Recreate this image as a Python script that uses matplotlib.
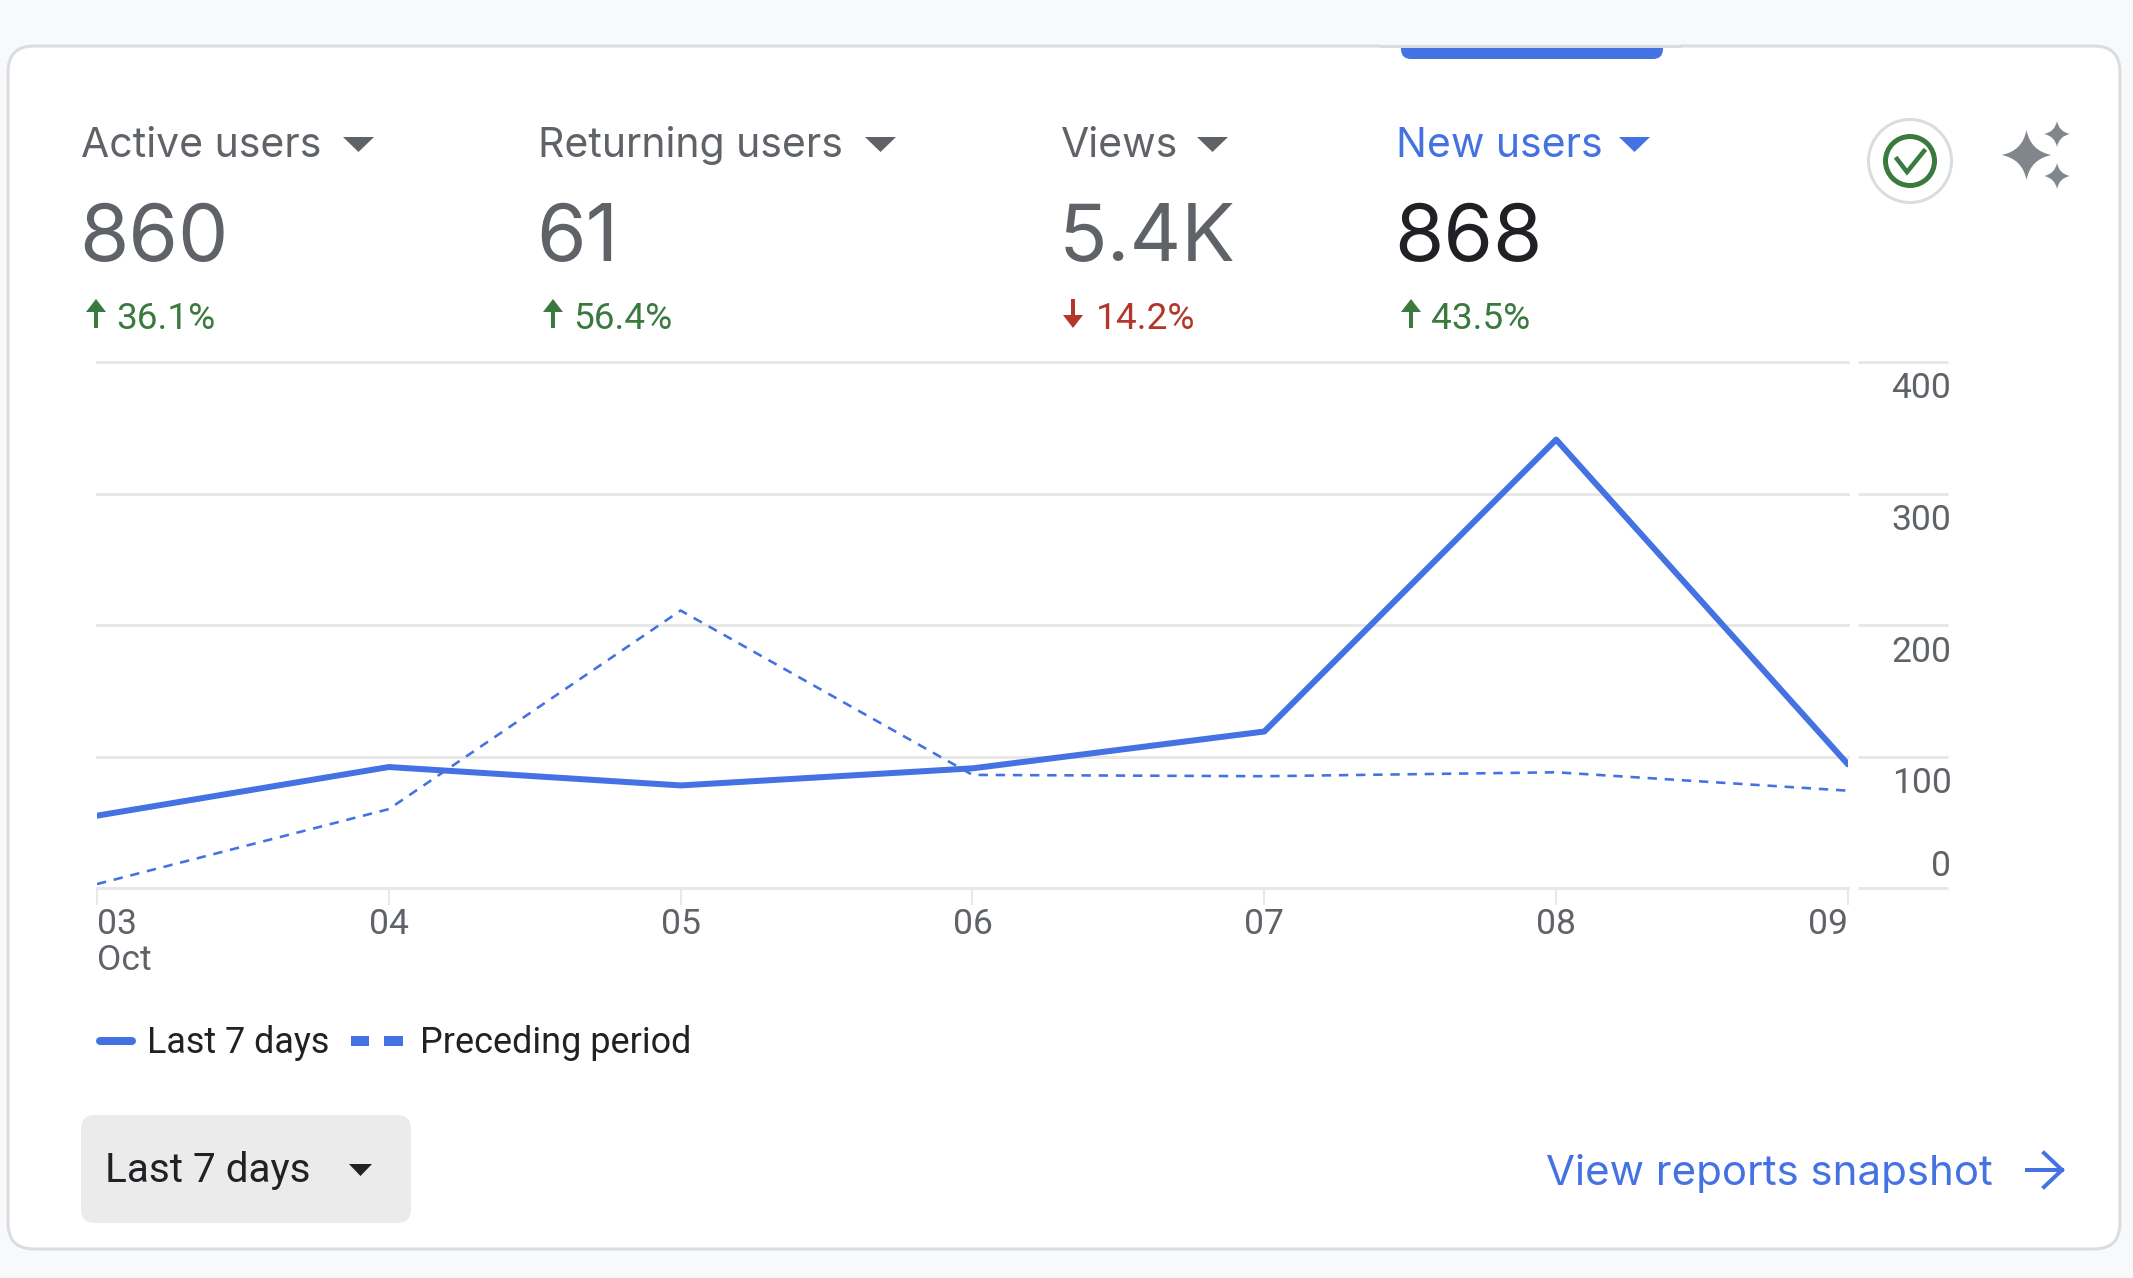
import matplotlib
matplotlib.use('Agg')
import numpy as np
from matplotlib import pyplot as plt
from matplotlib.patches import FancyBboxPatch, Polygon, Circle, PathPatch
from matplotlib.path import Path

# chart data
days = ['03\nOct', '04', '05', '06', '07', '08', '09']
last_7 = [55, 92, 78, 91, 119, 341, 94]
preceding = [3, 60, 211, 86, 85, 88, 74]
y_ticks = [0, 100, 200, 300, 400]

# header metrics
metric_names = ['Active users', 'Returning users', 'Views', 'New users']
metric_values = ['860', '61', '5.4K', '868']
metric_changes = ['36.1%', '56.4%', '14.2%', '43.5%']
metric_up = [True, True, False, True]

BLUE = '#4472e2'
GREY = '#5f6368'
DARK = '#202124'
GREEN = '#3a7a3f'
RED = '#b3362b'
LINE = '#e8e8e8'
W, H = 2133, 1278
DPI = 100
HEAD_FONT = ['Inter', 'DejaVu Sans']


def px(p):
    return p * 72 / DPI


def star(ax, cx, cy, r, color):
    k = r * 0.16
    verts = [(cx, cy - r), (cx + k, cy - k), (cx + r, cy), (cx + k, cy + k), (cx, cy + r),
             (cx - k, cy + k), (cx - r, cy), (cx - k, cy - k), (cx, cy - r)]
    codes = [Path.MOVETO] + [Path.CURVE3] * 8
    ax.add_patch(PathPatch(Path(verts, codes), fc=color, ec='none'))


plt.rcParams['font.family'] = ['Roboto', 'DejaVu Sans']
fig = plt.figure(figsize=(W / DPI, H / DPI), dpi=DPI, facecolor='#f8f9fa')

# overlay in pixel coords for the card around the chart
ui = fig.add_axes([0, 0, 1, 1])
ui.set_xlim(0, W)
ui.set_ylim(H, 0)
ui.axis('off')

ui.add_patch(FancyBboxPatch((8, 46), 2112, 1203, boxstyle='round,pad=0,rounding_size=26',
                            fc='white', ec='#dadce0', lw=px(3)))
ui.add_patch(FancyBboxPatch((1401, 30), 262, 29, boxstyle='round,pad=0,rounding_size=10',
                            fc=BLUE, ec='none'))
ui.add_patch(FancyBboxPatch((1380, 20), 300, 26, boxstyle='square,pad=0', fc='#f8f9fa', ec='none'))
ui.plot([1380, 1680], [46, 46], color='#dadce0', lw=px(3))

metric_x = [81, 538, 1061, 1396]
caret_x = [343, 865, 1197, 1619]
for i in range(4):
    x = metric_x[i]
    col = BLUE if i == 3 else GREY
    ui.text(x, 157, metric_names[i], color=col, fontsize=px(41), family=HEAD_FONT, va='baseline')
    ui.add_patch(Polygon([(caret_x[i], 137), (caret_x[i] + 31, 137), (caret_x[i] + 15.5, 152)], fc=col, ec='none'))
    ui.text(x - 2, 261, metric_values[i], color=DARK if i == 3 else GREY, fontsize=px(80),
            family=HEAD_FONT, va='baseline')
    chg = GREEN if metric_up[i] else RED
    ui.text(x + 35, 329, metric_changes[i], color=chg, fontsize=px(37), va='baseline')
    ax_x = x + 15
    if metric_up[i]:
        ui.plot([ax_x, ax_x], [310, 328], color=chg, lw=px(4), solid_capstyle='butt')
        ui.add_patch(Polygon([(ax_x - 10, 312), (ax_x + 10, 312), (ax_x, 299)], fc=chg, ec='none'))
    else:
        ui.plot([ax_x - 3, ax_x - 3], [299, 317], color=chg, lw=px(4), solid_capstyle='butt')
        ui.add_patch(Polygon([(ax_x - 13, 315), (ax_x + 7, 315), (ax_x - 3, 328)], fc=chg, ec='none'))

# check badge and sparkles
ui.add_patch(Circle((1910, 161), 41.5, fc='white', ec='#dadce0', lw=px(3)))
ui.add_patch(Circle((1910, 161), 24.5, fc='none', ec=GREEN, lw=px(5)))
ui.plot([1897, 1907, 1924], [159, 172, 151], color=GREEN, lw=px(4.5), solid_joinstyle='miter')
star(ui, 2026.5, 155, 25, '#80868b')
star(ui, 2057, 134, 13, '#80868b')
star(ui, 2057, 176, 13, '#80868b')

# legend keys
ui.plot([100, 132], [1041, 1041], color=BLUE, lw=px(8), solid_capstyle='round')
ui.text(147, 1039, 'Last 7 days', color=DARK, fontsize=px(36), va='center_baseline')
ui.plot([351, 369], [1041, 1041], color=BLUE, lw=px(10), solid_capstyle='butt')
ui.plot([384, 403], [1041, 1041], color=BLUE, lw=px(10), solid_capstyle='butt')
ui.text(420, 1039, 'Preceding period', color=DARK, fontsize=px(36), va='center_baseline')

# date range button
ui.add_patch(FancyBboxPatch((81, 1115), 330, 108, boxstyle='round,pad=0,rounding_size=14', fc='#ebebeb', ec='none'))
ui.text(105, 1167, 'Last 7 days', color=DARK, fontsize=px(40.5), va='center_baseline')
ui.add_patch(Polygon([(349, 1164), (372, 1164), (360.5, 1176)], fc=DARK, ec='none'))

# link
ui.text(1546, 1185, 'View reports snapshot', color=BLUE, fontsize=px(42), family=HEAD_FONT, va='baseline')
ui.plot([2027, 2062], [1170, 1170], color=BLUE, lw=px(4))
ui.plot([2044, 2062, 2044], [1153, 1170, 1187], color=BLUE, lw=px(4), solid_joinstyle='miter')

# the chart itself
left, right, top, bottom = 97, 1848, 362, 888
ax = fig.add_axes([left / W, 1 - bottom / H, (right - left) / W, (bottom - top) / H])
ax.patch.set_alpha(0)
for s in ax.spines.values():
    s.set_visible(False)

x = np.arange(len(days))
ax.plot(x, preceding, color=BLUE, lw=px(2.6), dashes=(3.6, 3))
ax.plot(x, last_7, color=BLUE, lw=px(6), solid_capstyle='round', solid_joinstyle='round')
ax.set_xlim(0, 6)
ax.set_ylim(0, 400)

ax.set_yticks(y_ticks)
ax.tick_params(axis='y', left=False, right=False, labelleft=False, labelright=False)
ax.grid(axis='y', color=LINE, lw=px(3), zorder=0)
for g in ax.get_ygridlines():
    g.set_clip_on(False)
ax.set_axisbelow(True)
ax.hlines(y_ticks, 1.0057, 1.0571, transform=ax.get_yaxis_transform(), color=LINE, lw=px(3), clip_on=False)
for v in y_ticks:
    off = 22 if v == 0 else -27
    ax.annotate(str(v), xy=(1.0591, v), xycoords=ax.get_yaxis_transform(), xytext=(0, off),
                textcoords='offset pixels', ha='right', va='center', color=GREY, fontsize=px(35.5),
                annotation_clip=False)

ax.set_xticks(x, days)
ax.tick_params(axis='x', length=px(17), width=px(2), color=LINE, labelcolor=GREY, labelsize=px(35.5), pad=px(3))
labels = ax.get_xticklabels()
labels[0].set_ha('left')
labels[0].set_multialignment('left')
labels[0].set_linespacing(1.13)
labels[-1].set_ha('right')

fig.savefig('out.png', dpi=DPI, facecolor=fig.get_facecolor())
